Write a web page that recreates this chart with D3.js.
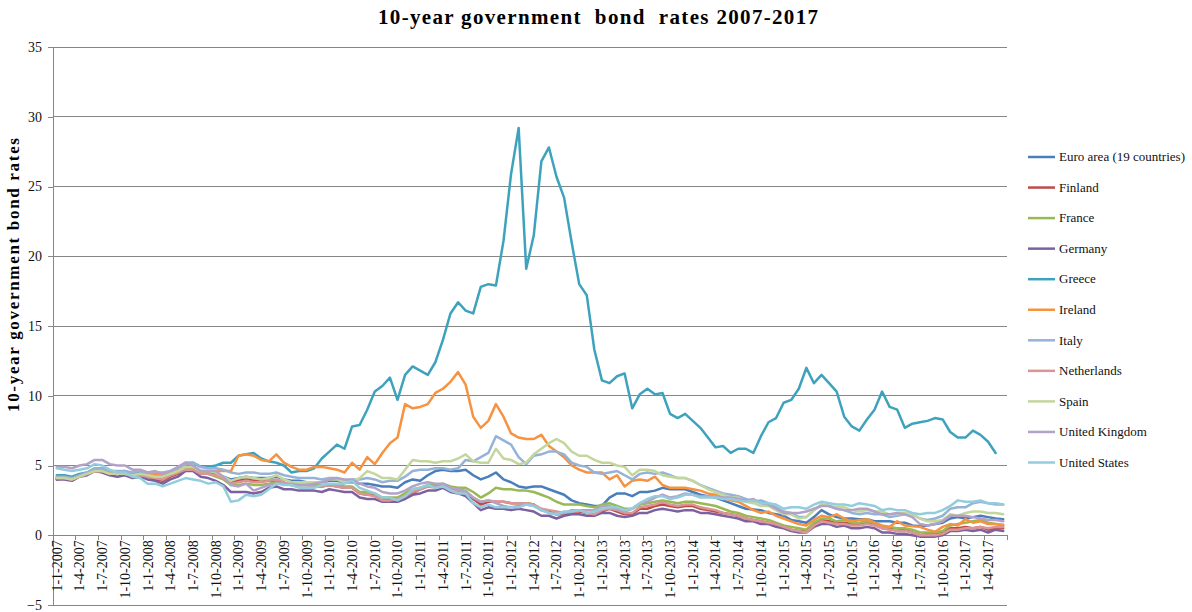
<!DOCTYPE html>
<html>
<head>
<meta charset="utf-8">
<title>10-year government bond rates 2007-2017</title>
<script src="https://cdn.jsdelivr.net/npm/d3@7"></script>
<style>
  body { margin: 0; background: #fff; }
  svg { display: block; }
  text { font-family: "Liberation Serif", "Times New Roman", serif; }
</style>
</head>
<body>
<svg id="chart" width="1192" height="612"></svg>
<script>
// Monthly categories, January 2007 to June 2017 (labels as d-m-yyyy)
const years = [2007, 2008, 2009, 2010, 2011, 2012, 2013, 2014, 2015, 2016, 2017];
const months = [];
years.forEach(yr => {
  const last = yr === 2017 ? 6 : 12;
  for (let m = 1; m <= last; m++) months.push(`1-${m}-${yr}`);
});

// Y axis tick values
const yTicks = [-5, 0, 5, 10, 15, 20, 25, 30, 35];

const seriesNames = ["Euro area (19 countries)", "Finland", "France", "Germany", "Greece",
  "Ireland", "Italy", "Netherlands", "Spain", "United Kingdom", "United States"];

// 10-year yields, % per month
const euroArea = [
  4.1, 4.1, 4.0, 4.2, 4.4, 4.6, 4.6, 4.4, 4.4, 4.4, 4.3, 4.4,
  4.3, 4.2, 4.1, 4.3, 4.5, 4.8, 4.8, 4.5, 4.5, 4.4, 4.2, 4.0,
  4.1, 4.2, 4.1, 4.1, 4.1, 4.2, 4.0, 3.9, 3.9, 3.8, 3.8, 3.8,
  3.9, 3.9, 3.8, 3.8, 3.7, 3.7, 3.6, 3.5, 3.5, 3.4, 3.8, 4.0,
  3.9, 4.3, 4.6, 4.7, 4.6, 4.6, 4.7, 4.3, 4.0, 4.2, 4.5, 4.0,
  3.8, 3.5, 3.4, 3.5, 3.5, 3.3, 3.1, 2.9, 2.5, 2.3, 2.2, 2.1,
  2.1, 2.7, 3.0, 3.0, 2.8, 3.1, 3.1, 3.2, 3.4, 3.3, 3.3, 3.3,
  3.1, 2.9, 2.8, 2.7, 2.5, 2.3, 2.1, 1.9, 1.85, 1.8, 1.6, 1.5,
  1.4, 1.1, 1.0, 0.9, 1.3, 1.8, 1.5, 1.3, 1.2, 1.2, 1.15, 1.15,
  1.0, 1.0, 1.0, 0.9, 0.9, 0.7, 0.65, 0.7, 0.8, 0.9, 1.2, 1.3,
  1.2, 1.3, 1.4, 1.3, 1.2, 1.15
];
const finland = [
  4.0, 4.1, 4.0, 4.2, 4.4, 4.6, 4.6, 4.4, 4.4, 4.4, 4.2, 4.3,
  4.2, 4.0, 3.9, 4.2, 4.4, 4.7, 4.7, 4.4, 4.4, 4.3, 4.1, 3.8,
  3.9, 4.0, 3.9, 3.9, 3.9, 3.9, 3.7, 3.6, 3.6, 3.6, 3.5, 3.5,
  3.6, 3.5, 3.4, 3.4, 3.0, 2.9, 2.9, 2.6, 2.6, 2.6, 2.8, 3.0,
  3.3, 3.5, 3.5, 3.6, 3.4, 3.2, 3.1, 2.6, 2.2, 2.4, 2.4, 2.4,
  2.3, 2.3, 2.3, 2.2, 1.8, 1.7, 1.5, 1.5, 1.7, 1.7, 1.6, 1.5,
  1.7, 1.9, 1.7, 1.5, 1.5, 1.9, 1.9, 2.1, 2.2, 2.1, 2.0, 2.1,
  2.1, 1.9, 1.8, 1.7, 1.6, 1.5, 1.4, 1.2, 1.1, 1.0, 0.9, 0.8,
  0.6, 0.4, 0.3, 0.3, 0.8, 1.1, 1.0, 0.9, 0.9, 0.8, 0.8, 0.9,
  0.8, 0.5, 0.5, 0.5, 0.4, 0.2, 0.0, 0.1, 0.1, 0.2, 0.5, 0.5,
  0.6, 0.5, 0.6, 0.4, 0.5, 0.5
];
const france = [
  4.1, 4.1, 4.0, 4.2, 4.4, 4.6, 4.6, 4.4, 4.4, 4.4, 4.2, 4.4,
  4.2, 4.1, 4.0, 4.3, 4.5, 4.8, 4.8, 4.5, 4.4, 4.2, 4.0, 3.6,
  3.6, 3.7, 3.6, 3.6, 3.7, 3.8, 3.7, 3.6, 3.6, 3.6, 3.6, 3.6,
  3.6, 3.6, 3.5, 3.5, 3.1, 3.1, 3.0, 2.7, 2.7, 2.7, 3.0, 3.3,
  3.4, 3.6, 3.6, 3.7, 3.5, 3.4, 3.4, 3.1, 2.7, 3.0, 3.4, 3.3,
  3.3, 3.2, 3.2, 3.1, 2.9, 2.7, 2.4, 2.2, 2.2, 2.2, 2.1, 2.0,
  2.2, 2.3, 2.1, 1.9, 1.9, 2.2, 2.3, 2.4, 2.5, 2.4, 2.3, 2.4,
  2.4, 2.3, 2.2, 2.1, 1.9, 1.7, 1.6, 1.4, 1.3, 1.2, 1.1, 0.9,
  0.7, 0.6, 0.5, 0.4, 0.9, 1.2, 1.2, 1.0, 1.1, 0.9, 0.9, 1.0,
  0.9, 0.6, 0.6, 0.5, 0.5, 0.4, 0.2, 0.2, 0.2, 0.3, 0.7, 0.8,
  0.9, 1.0, 1.1, 0.9, 0.8, 0.7
];
const germany = [
  4.0, 4.0, 3.9, 4.2, 4.3, 4.6, 4.5, 4.3, 4.2, 4.3, 4.1, 4.2,
  4.0, 3.9, 3.7, 4.0, 4.2, 4.6, 4.6, 4.2, 4.1, 3.9, 3.6, 3.1,
  3.1, 3.1, 3.0, 3.1, 3.4, 3.5, 3.3, 3.3, 3.2, 3.2, 3.2, 3.1,
  3.3, 3.2, 3.1, 3.1, 2.7, 2.6, 2.6, 2.4, 2.4, 2.4, 2.6, 2.9,
  3.0, 3.2, 3.2, 3.4, 3.1, 3.0, 2.8, 2.3, 1.8, 2.0, 1.9, 1.9,
  1.8, 1.9, 1.8, 1.7, 1.4, 1.4, 1.2, 1.4, 1.5, 1.5, 1.4, 1.4,
  1.6, 1.6, 1.4, 1.3, 1.4, 1.6, 1.6, 1.8, 1.9, 1.8, 1.7, 1.8,
  1.8, 1.6, 1.6, 1.5, 1.4, 1.3, 1.2, 1.0, 1.0, 0.8, 0.8, 0.6,
  0.5, 0.3, 0.2, 0.2, 0.6, 0.8, 0.8, 0.6, 0.7, 0.5, 0.5, 0.6,
  0.5, 0.2, 0.2, 0.1, 0.1, 0.0, -0.1, -0.1, -0.1, 0.0, 0.3, 0.3,
  0.4, 0.3, 0.4, 0.2, 0.4, 0.3
];
const greece = [
  4.3, 4.3, 4.2, 4.4, 4.5, 4.8, 4.8, 4.6, 4.5, 4.6, 4.4, 4.6,
  4.5, 4.5, 4.4, 4.6, 4.8, 5.2, 5.2, 4.9, 4.9, 5.0, 5.2, 5.2,
  5.7, 5.8, 5.9, 5.5, 5.3, 5.2, 5.0, 4.5, 4.6, 4.6, 4.8, 5.5,
  6.0, 6.5, 6.2, 7.8, 7.9, 9.0, 10.3, 10.7, 11.3, 9.7, 11.5, 12.1,
  11.8, 11.5, 12.4, 14.0, 15.9, 16.7, 16.1, 15.9, 17.8, 18.0, 17.9, 21.1,
  25.9, 29.2, 19.1, 21.5, 26.8, 27.8, 25.7, 24.2, 21.0, 18.0, 17.2, 13.3,
  11.1, 10.9, 11.4, 11.6, 9.1, 10.1, 10.5, 10.1, 10.2, 8.7, 8.4, 8.7,
  8.2, 7.7, 7.0, 6.3, 6.4, 5.9, 6.2, 6.2, 5.9, 7.1, 8.1, 8.4,
  9.5, 9.7, 10.5, 12.0, 10.9, 11.5, 10.9, 10.3, 8.5, 7.8, 7.5, 8.3,
  9.0, 10.3, 9.2, 9.0, 7.7, 8.0, 8.1, 8.2, 8.4, 8.3, 7.4, 7.0,
  7.0, 7.5, 7.2, 6.7, 5.9, null
];
const ireland = [
  4.1, 4.1, 4.0, 4.2, 4.4, 4.6, 4.6, 4.4, 4.4, 4.5, 4.3, 4.4,
  4.3, 4.3, 4.3, 4.4, 4.6, 4.9, 4.9, 4.6, 4.6, 4.6, 4.6, 4.6,
  5.7, 5.8, 5.7, 5.4, 5.3, 5.8, 5.2, 4.9, 4.7, 4.7, 4.9, 4.9,
  4.8, 4.7, 4.5, 5.2, 4.7, 5.6, 5.1, 5.9, 6.6, 7.0, 9.4, 9.1,
  9.2, 9.4, 10.2, 10.5, 11.0, 11.7, 10.8, 8.5, 7.7, 8.2, 9.4, 8.5,
  7.3, 7.0, 6.9, 6.9, 7.2, 6.4, 6.0, 5.6, 5.0, 4.7, 4.5, 4.5,
  4.5, 4.0, 4.3, 3.5, 3.9, 4.0, 3.9, 4.2, 3.6, 3.4, 3.4, 3.4,
  3.3, 3.2, 3.0, 2.9, 2.7, 2.5, 2.4, 2.1, 1.8, 1.6, 1.7, 1.4,
  1.2, 1.0, 0.8, 0.7, 1.1, 1.4, 1.3, 1.5, 1.2, 1.0, 1.1, 1.15,
  0.9, 0.7, 0.6, 1.0, 0.7, 0.65, 0.6, 0.4, 0.25, 0.6, 0.8, 0.7,
  1.15, 0.9, 1.0, 0.8, 0.8, 0.75
];
const italy = [
  4.2, 4.2, 4.1, 4.3, 4.5, 4.8, 4.8, 4.6, 4.6, 4.6, 4.5, 4.6,
  4.5, 4.5, 4.5, 4.6, 4.8, 5.1, 5.2, 4.9, 4.8, 4.8, 4.7, 4.5,
  4.4, 4.5, 4.5, 4.4, 4.4, 4.5, 4.3, 4.2, 4.1, 4.1, 4.1, 4.0,
  4.1, 4.1, 3.9, 4.0, 4.0, 4.1, 4.0, 3.8, 3.9, 3.9, 4.2, 4.6,
  4.7, 4.7, 4.8, 4.8, 4.7, 4.8, 5.4, 5.3, 5.6, 5.9, 7.1, 6.8,
  6.5, 5.6, 5.1, 5.7, 5.8, 6.0, 6.0, 5.8, 5.2, 5.0, 4.9, 4.5,
  4.4, 4.5, 4.6, 4.3, 4.0, 4.4, 4.5, 4.4, 4.5, 4.3, 4.1, 4.1,
  3.9, 3.6, 3.4, 3.2, 3.0, 2.9, 2.8, 2.6, 2.4, 2.5, 2.3, 2.0,
  1.7, 1.6, 1.3, 1.3, 1.8, 2.2, 2.1, 1.9, 1.8, 1.6, 1.5, 1.6,
  1.5, 1.5, 1.3, 1.4, 1.5, 1.5, 1.2, 1.1, 1.2, 1.4, 1.9, 2.0,
  2.0, 2.3, 2.4, 2.3, 2.2, 2.2
];
const netherlands = [
  4.1, 4.1, 4.0, 4.2, 4.4, 4.6, 4.6, 4.4, 4.4, 4.4, 4.2, 4.3,
  4.2, 4.1, 4.0, 4.3, 4.5, 4.7, 4.7, 4.4, 4.4, 4.3, 4.1, 3.7,
  3.8, 3.9, 3.8, 3.8, 3.9, 4.0, 3.8, 3.6, 3.6, 3.6, 3.5, 3.5,
  3.6, 3.5, 3.4, 3.4, 3.0, 2.9, 2.8, 2.5, 2.5, 2.6, 2.8, 3.1,
  3.3, 3.5, 3.4, 3.6, 3.4, 3.2, 3.1, 2.7, 2.4, 2.5, 2.4, 2.4,
  2.3, 2.3, 2.3, 2.2, 1.9, 1.8, 1.7, 1.6, 1.8, 1.8, 1.6, 1.5,
  1.8, 1.9, 1.8, 1.6, 1.6, 2.0, 2.1, 2.2, 2.4, 2.2, 2.1, 2.2,
  2.2, 2.0, 1.9, 1.8, 1.6, 1.5, 1.4, 1.2, 1.1, 1.0, 0.9, 0.8,
  0.6, 0.4, 0.3, 0.2, 0.7, 1.0, 0.9, 0.8, 0.8, 0.7, 0.7, 0.8,
  0.7, 0.5, 0.4, 0.3, 0.3, 0.2, 0.0, 0.0, 0.0, 0.1, 0.4, 0.4,
  0.5, 0.5, 0.6, 0.5, 0.6, 0.6
];
const spain = [
  4.1, 4.1, 4.0, 4.2, 4.4, 4.6, 4.6, 4.4, 4.4, 4.4, 4.3, 4.4,
  4.3, 4.2, 4.2, 4.4, 4.6, 4.9, 4.9, 4.6, 4.6, 4.5, 4.2, 3.9,
  4.1, 4.2, 4.1, 4.0, 4.1, 4.3, 4.0, 3.8, 3.8, 3.8, 3.8, 3.8,
  4.0, 4.0, 3.8, 3.9, 4.1, 4.6, 4.4, 4.1, 4.1, 4.0, 4.7, 5.4,
  5.3, 5.3, 5.2, 5.3, 5.3, 5.5, 5.8, 5.3, 5.2, 5.2, 6.2, 5.5,
  5.4, 5.1, 5.2, 5.8, 6.2, 6.6, 6.9, 6.6, 6.0, 5.7, 5.7, 5.4,
  5.2, 5.2, 5.0, 4.9, 4.3, 4.7, 4.7, 4.6, 4.3, 4.2, 4.1, 4.1,
  3.9, 3.6, 3.3, 3.1, 2.9, 2.7, 2.7, 2.4, 2.3, 2.1, 2.1, 1.8,
  1.5, 1.5, 1.2, 1.3, 1.8, 2.2, 2.1, 2.0, 2.0, 1.8, 1.7, 1.8,
  1.7, 1.7, 1.5, 1.5, 1.6, 1.5, 1.2, 1.0, 1.0, 1.1, 1.5, 1.4,
  1.6, 1.7, 1.7, 1.6, 1.6, 1.5
];
const unitedKingdom = [
  4.9, 4.9, 4.8, 5.0, 5.1, 5.4, 5.4, 5.1, 5.0, 5.0, 4.7, 4.7,
  4.5, 4.6, 4.4, 4.6, 4.9, 5.2, 5.0, 4.6, 4.6, 4.6, 4.2, 3.6,
  3.5, 3.7, 3.2, 3.4, 3.6, 3.7, 3.7, 3.7, 3.6, 3.6, 3.7, 3.8,
  4.0, 4.1, 4.0, 4.0, 3.7, 3.5, 3.4, 3.1, 3.0, 3.0, 3.2, 3.5,
  3.7, 3.8, 3.7, 3.7, 3.4, 3.3, 3.2, 2.7, 2.4, 2.5, 2.3, 2.1,
  2.0, 2.1, 2.2, 2.1, 1.8, 1.6, 1.5, 1.6, 1.7, 1.8, 1.8, 1.8,
  2.1, 2.1, 1.9, 1.7, 1.9, 2.3, 2.4, 2.7, 2.9, 2.7, 2.8, 3.0,
  2.9, 2.8, 2.8, 2.8, 2.7, 2.7, 2.6, 2.5, 2.6, 2.3, 2.2, 1.9,
  1.6, 1.6, 1.6, 1.7, 1.9, 2.1, 2.1, 1.9, 1.8, 1.8, 1.9, 1.9,
  1.7, 1.5, 1.5, 1.6, 1.5, 1.3, 0.8, 0.7, 0.8, 1.0, 1.4, 1.4,
  1.4, 1.3, 1.2, 1.1, 1.1, 1.0
];
const unitedStates = [
  4.8, 4.7, 4.6, 4.7, 4.8, 5.1, 5.0, 4.7, 4.5, 4.5, 4.2, 4.1,
  3.7, 3.7, 3.5, 3.7, 3.9, 4.1, 4.0, 3.9, 3.7, 3.8, 3.5, 2.4,
  2.5, 2.9, 2.8, 2.9, 3.3, 3.7, 3.6, 3.6, 3.4, 3.4, 3.4, 3.6,
  3.7, 3.7, 3.7, 3.9, 3.4, 3.2, 3.0, 2.7, 2.7, 2.5, 2.8, 3.3,
  3.4, 3.6, 3.4, 3.5, 3.2, 3.0, 3.0, 2.3, 2.0, 2.2, 2.0, 2.0,
  2.0, 2.0, 2.2, 2.1, 1.8, 1.6, 1.5, 1.7, 1.7, 1.8, 1.6, 1.7,
  1.9, 2.0, 2.0, 1.8, 1.9, 2.3, 2.6, 2.8, 2.8, 2.6, 2.7, 2.9,
  2.9, 2.7, 2.7, 2.7, 2.6, 2.6, 2.5, 2.4, 2.5, 2.3, 2.3, 2.2,
  1.9, 2.0, 2.0, 1.9, 2.2, 2.4, 2.3, 2.2, 2.2, 2.1, 2.3, 2.2,
  2.1, 1.8, 1.9, 1.8, 1.8, 1.6, 1.5, 1.6, 1.6, 1.8, 2.1, 2.5,
  2.4, 2.4, 2.5, 2.3, 2.3, 2.2
];

const seriesValues = [euroArea, finland, france, germany, greece, ireland,
  italy, netherlands, spain, unitedKingdom, unitedStates];
const seriesColors = ["#4A7EBB", "#BE4B48", "#98B954", "#7D60A0", "#3FA2BD", "#F69240",
  "#95B3D7", "#D99694", "#C3D69B", "#B3A2C7", "#93CDDD"];

const svg = d3.select("#chart");
const plot = { left: 53, right: 1007, top: 47, bottom: 605 };
const gridColor = "#868686";

const x = d3.scaleBand().domain(months).range([plot.left, plot.right]).padding(0);
const y = d3.scaleLinear().domain([-5, 35]).range([plot.bottom, plot.top]);
const cx = i => x(months[i]) + x.bandwidth() / 2;

// Title
svg.append("text")
  .attr("x", 598).attr("y", 24)
  .attr("text-anchor", "middle")
  .attr("font-size", 21).attr("font-weight", "bold")
  .attr("textLength", 440).attr("lengthAdjust", "spacing")
  .style("white-space", "pre")
  .text("10-year government  bond  rates 2007-2017");

// Horizontal gridlines
svg.append("g")
  .selectAll("line")
  .data(yTicks)
  .join("line")
  .attr("x1", plot.left).attr("x2", plot.right)
  .attr("y1", d => y(d)).attr("y2", d => y(d))
  .attr("stroke", gridColor).attr("stroke-width", 1)
  .attr("shape-rendering", "crispEdges");

// Y axis
const yAxis = svg.append("g")
  .attr("transform", `translate(${plot.left},0)`)
  .call(d3.axisLeft(y).tickValues(yTicks).tickSize(5).tickPadding(6).tickFormat(d3.format("d")));
yAxis.select(".domain").attr("stroke", gridColor).attr("shape-rendering", "crispEdges");
yAxis.selectAll(".tick line").attr("stroke", gridColor).attr("shape-rendering", "crispEdges");
yAxis.selectAll(".tick text")
  .attr("font-family", "'Liberation Serif', serif")
  .attr("font-size", 14).attr("fill", "#111");

// Y axis title
svg.append("text")
  .attr("transform", "translate(19,275) rotate(-90)")
  .attr("text-anchor", "middle")
  .attr("font-size", 17).attr("font-weight", "bold")
  .attr("textLength", 274).attr("lengthAdjust", "spacing")
  .text("10-year government bond rates");

// X axis at zero with quarterly labels
const labelIdx = months.map((m, i) => i).filter(i => i % 3 === 0);
const xAxis = svg.append("g")
  .attr("transform", `translate(0,${y(0)})`)
  .call(d3.axisBottom(x).tickValues(labelIdx.map(i => months[i])).tickSize(0).tickPadding(0));
xAxis.select(".domain").attr("stroke", gridColor).attr("shape-rendering", "crispEdges");
xAxis.selectAll(".tick text")
  .attr("font-family", "'Liberation Serif', serif")
  .attr("font-size", 14).attr("fill", "#111")
  .attr("text-anchor", "end")
  .attr("transform", "translate(0,5) rotate(-90)")
  .attr("x", 0).attr("y", 0).attr("dx", 0).attr("dy", "0.35em");

// Tick marks on category boundaries
const boundaryIdx = labelIdx.concat([months.length]);
svg.append("g")
  .selectAll("line")
  .data(boundaryIdx)
  .join("line")
  .attr("x1", i => i < months.length ? x(months[i]) : plot.right)
  .attr("x2", i => i < months.length ? x(months[i]) : plot.right)
  .attr("y1", y(0)).attr("y2", y(0) + 5)
  .attr("stroke", gridColor)
  .attr("shape-rendering", "crispEdges");

// Series lines
const line = d3.line()
  .defined(d => d.v != null)
  .x(d => cx(d.i))
  .y(d => y(d.v));

svg.append("g")
  .selectAll("path")
  .data(seriesValues.map((vals, s) => ({ s, pts: vals.map((v, i) => ({ i, v })) })))
  .join("path")
  .attr("fill", "none")
  .attr("stroke", d => seriesColors[d.s])
  .attr("stroke-width", 2.5)
  .attr("stroke-linejoin", "round")
  .attr("stroke-linecap", "round")
  .attr("d", d => line(d.pts));

// Legend
const legend = svg.append("g");
const legendItem = legend.selectAll("g")
  .data(seriesNames)
  .join("g")
  .attr("transform", (d, i) => `translate(1028,${157 + i * 30.55})`);
legendItem.append("line")
  .attr("x1", 0).attr("x2", 27)
  .attr("stroke", (d, i) => seriesColors[i])
  .attr("stroke-width", 2.5);
legendItem.append("text")
  .attr("x", 31).attr("dy", "0.33em")
  .attr("font-size", 13).attr("fill", "#111")
  .text(d => d);
</script>
</body>
</html>
